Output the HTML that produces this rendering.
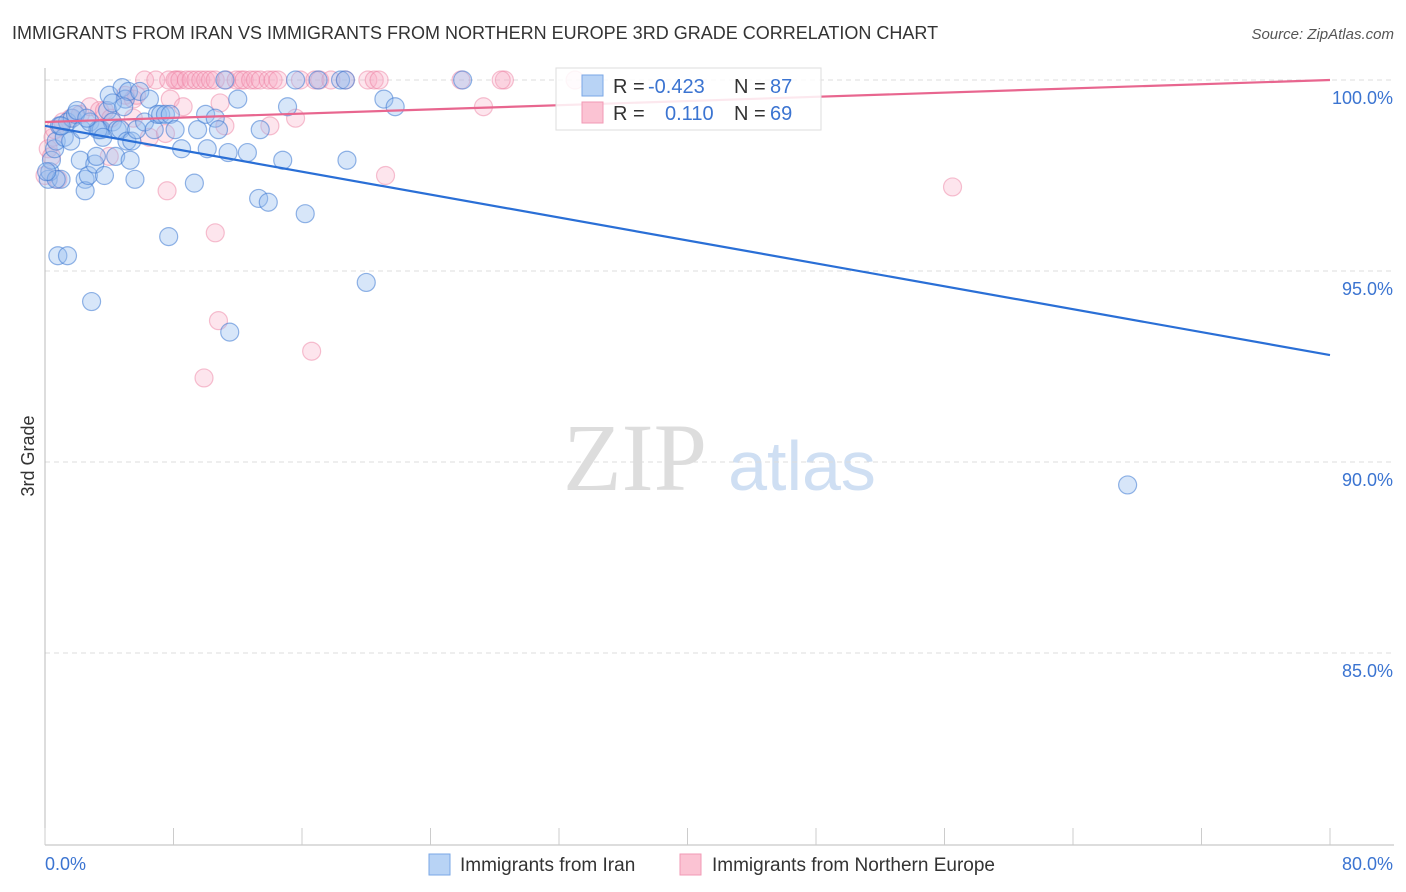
<!DOCTYPE html>
<html><head><meta charset="utf-8"><style>
body{margin:0;background:#fff;font-family:"Liberation Sans",sans-serif;}
svg{display:block}
</style></head><body>
<svg id="chart" width="1406" height="892">
<text x="12" y="39" font-size="18" fill="#333">IMMIGRANTS FROM IRAN VS IMMIGRANTS FROM NORTHERN EUROPE 3RD GRADE CORRELATION CHART</text>
<text x="1394" y="39" font-size="15" fill="#555" font-style="italic" text-anchor="end">Source: ZipAtlas.com</text>
<text x="34" y="456" font-size="18" fill="#333" transform="rotate(-90 34 456)" text-anchor="middle">3rd Grade</text>
<g><text x="635" y="490" font-size="96" fill="#ddd" font-family="Liberation Serif,serif" text-anchor="middle">ZIP</text><text x="802" y="490" font-size="70" fill="#cfdff3" text-anchor="middle">atlas</text></g>
<g id="grid"></g><g id="axes"></g><g id="pts"></g><g id="trend"></g>
<g>
<rect x="556" y="68" width="265" height="62" fill="#fff" fill-opacity="0.85" stroke="#ddd"/>
<rect x="582" y="75" width="21" height="21" fill="#b8d3f5" stroke="#7aa7e6"/>
<rect x="582" y="102" width="21" height="21" fill="#fbc3d3" stroke="#f29ab5"/>
<text x="613" y="93" font-size="20" fill="#333">R = </text><text x="648" y="93" font-size="20" fill="#3b74d1">-0.423</text>
<text x="734" y="93" font-size="20" fill="#333">N = </text><text x="770" y="93" font-size="20" fill="#3b74d1">87</text>
<text x="613" y="120" font-size="20" fill="#333">R = </text><text x="665" y="120" font-size="20" fill="#3b74d1">0.110</text>
<text x="734" y="120" font-size="20" fill="#333">N = </text><text x="770" y="120" font-size="20" fill="#3b74d1">69</text>
</g>
<g>
<rect x="429" y="854" width="21" height="21" fill="#b8d3f5" stroke="#7aa7e6"/>
<text x="460" y="871" font-size="19" fill="#333">Immigrants from Iran</text>
<rect x="680" y="854" width="21" height="21" fill="#fbc3d3" stroke="#f29ab5"/>
<text x="712" y="871" font-size="19" fill="#333">Immigrants from Northern Europe</text>
</g>
</svg>
<script>
const yTicks=[100,95,90,85];
const yTickLabels=["100.0%","95.0%","90.0%","85.0%"];
const xEnds=[0,80];
const xEndLabels=["0.0%","80.0%"];
const iranX=[0.2,0.3,0.4,0.6,0.7,0.9,1.0,1.2,1.4,1.6,1.7,1.9,2.0,2.2,2.3,2.5,2.5,2.7,2.8,2.9,3.1,3.2,3.4,3.5,3.7,3.9,4.0,4.2,4.4,4.5,4.7,4.8,5.0,5.1,5.2,5.3,5.4,5.6,5.7,5.9,6.2,6.5,6.8,7.0,7.2,7.5,7.7,7.8,8.1,8.5,9.3,9.5,10.0,10.1,10.6,10.8,11.2,11.4,11.5,12.0,12.6,13.3,13.4,13.9,14.8,15.1,15.6,16.2,17.0,18.4,18.7,18.8,20.0,21.1,21.8,26.0,67.4,0.8,1.4,3.3,4.2,0.7,0.1,1.0,2.6,3.6,4.9];
const iranY=[97.4,97.6,97.9,98.2,98.4,98.8,97.4,98.5,98.9,98.4,99.0,99.1,99.2,97.9,98.7,97.4,97.1,97.5,98.9,94.2,97.8,98.0,98.7,98.7,97.5,99.2,99.6,98.9,98.0,98.7,98.7,99.8,99.5,98.4,99.7,97.9,98.4,97.4,98.7,99.7,98.9,99.5,98.7,99.1,99.1,99.1,95.9,99.1,98.7,98.2,97.3,98.7,99.1,98.2,99.0,98.7,100,98.1,93.4,99.5,98.1,96.9,98.7,96.8,97.9,99.3,100,96.5,100,100,100,97.9,94.7,99.5,99.3,100,89.4,95.4,95.4,98.7,99.4,97.4,97.6,98.8,99.0,98.5,99.3];
const neX=[0.0,0.2,0.4,0.5,0.6,0.8,1.1,1.6,2.2,2.8,3.4,3.7,4.1,15.6,5.0,5.5,5.7,6.5,7.6,7.5,7.8,8.2,8.6,10.6,10.8,9.9,10.9,11.2,16.6,4.0,5.5,14.0,21.2,27.3,56.5,6.2,6.9,7.7,8.1,8.4,8.8,9.1,9.4,9.7,10.0,10.3,10.6,11.3,11.9,12.2,12.4,12.8,13.1,13.4,13.9,14.2,14.5,15.9,16.8,17.1,17.8,18.7,20.1,20.5,20.8,25.9,28.6,28.4,33.0];
const neY=[97.5,98.2,98.0,98.5,98.7,97.4,98.9,99.0,99.1,99.3,99.2,99.2,99.0,99.0,99.6,99.5,99.6,98.5,97.1,98.6,99.5,100,99.3,96.0,93.7,92.2,99.4,98.8,92.9,98.0,99.0,98.8,97.5,99.3,97.2,100,100,100,100,100,100,100,100,100,100,100,100,100,100,100,100,100,100,100,100,100,100,100,100,100,100,100,100,100,100,100,100,100,100];
const iranTrend=[98.8,92.8];
const neTrend=[98.9,100.0];
const ns="http://www.w3.org/2000/svg";
const X=v=>45+v/80*1285, Y=v=>80+(100-v)/5*191;
function mk(tag,attrs,parent){const e=document.createElementNS(ns,tag);for(const k in attrs)e.setAttribute(k,attrs[k]);document.getElementById(parent).appendChild(e);return e;}
yTicks.forEach((t,i)=>{
 const g=mk('line',{x1:45,x2:1394,y1:Y(t),y2:Y(t),stroke:'#ddd','stroke-dasharray':'5,4'},'grid');
 
 
 const l=mk('text',{x:1393,y:Y(t)+24,'font-size':18,fill:'#3b74d1','text-anchor':'end'},'grid');
 l.textContent=yTickLabels[i];
 
 
});
const ax=mk('line',{x1:45,x2:1394,y1:845,y2:845,stroke:'#bbb'},'axes');


const ay=mk('line',{x1:45,x2:45,y1:68,y2:845,stroke:'#bbb'},'axes');


for(let i=0;i<=10;i++){const t=mk('line',{x1:X(i*8),x2:X(i*8),y1:828,y2:845,stroke:'#ccc'},'axes');
 
 }
xEnds.forEach((v,i)=>{const t=mk('text',{x:i?1393:45,y:870,'font-size':18,fill:'#3b74d1','text-anchor':i?'end':'start'},'axes');
 t.textContent=xEndLabels[i];
 
 });
neX.forEach((v,i)=>{const c=mk('circle',{cx:X(v),cy:Y(neY[i]),r:9,fill:'rgba(248,170,195,0.3)',stroke:'rgba(235,120,155,0.45)','stroke-width':1.2},'pts');
 
 });
iranX.forEach((v,i)=>{const c=mk('circle',{cx:X(v),cy:Y(iranY[i]),r:9,fill:'rgba(150,190,240,0.38)',stroke:'rgba(60,120,210,0.55)','stroke-width':1.2},'pts');
 
 });
const t1=mk('line',{x1:X(0),x2:X(80),y1:Y(iranTrend[0]),y2:Y(iranTrend[1]),stroke:'#2a6fd6','stroke-width':2.2},'trend');


const t2=mk('line',{x1:X(0),x2:X(80),y1:Y(neTrend[0]),y2:Y(neTrend[1]),stroke:'#e8668f','stroke-width':2.2},'trend');


</script>
</body></html>
